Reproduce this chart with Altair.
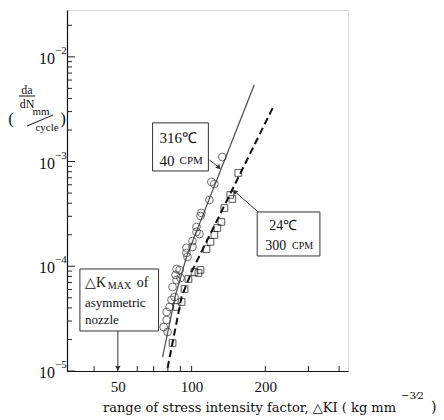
import altair as alt
import pandas as pd

# ---------------- data ----------------
# 316 C, 40 CPM (circles)
circle_dk = [133.5, 120.4, 123.9, 118.2, 109.7, 108.7, 104.7, 104.7, 107.7, 100.8,
             95.3, 100.8, 95.3, 96.2, 86.8, 89.3, 86.0, 90.1, 86.8, 83.6,
             85.2, 82.8, 81.3, 79.1, 79.1, 76.9, 79.8]
circle_rate = [1.106e-3, 6.39e-4, 6.11e-4, 4.30e-4, 3.23e-4, 3.02e-4, 2.37e-4, 2.13e-4, 2.03e-4, 1.74e-4,
               1.50e-4, 1.53e-4, 1.34e-4, 1.23e-4, 9.42e-5, 9.22e-5, 8.26e-5, 7.73e-5, 7.40e-5, 6.34e-5,
               5.09e-5, 4.77e-5, 4.09e-5, 3.66e-5, 3.07e-5, 2.63e-5, 2.36e-5]
# 24 C, 300 CPM (squares)
square_dk = [155.1, 143.9, 146.6, 136.1, 132.3, 127.4, 123.9, 119.4, 115.0, 108.7,
             102.7, 106.7, 97.1, 93.6, 91.0, 86.8, 83.6]
square_rate = [7.78e-4, 4.80e-4, 4.39e-4, 3.60e-4, 2.65e-4, 2.32e-4, 1.99e-4, 1.71e-4, 1.46e-4, 9.22e-5,
               8.82e-5, 8.63e-5, 7.56e-5, 6.07e-5, 4.56e-5, 4.09e-5, 1.85e-5]
# fitted lines
line316_dk = [76.1, 86.0, 95.3, 180.1]
line316_rate = [1.36e-5, 5.32e-5, 1.23e-4, 5.39e-3]
line24_dk = [79.8, 91.0, 99.9, 215.3]
line24_rate = [1.07e-5, 5.09e-5, 8.82e-5, 3.32e-3]

# axes
x_labels = [50, 100, 200]
x_minor_ticks = [40, 50, 60, 70, 80, 90, 100, 200, 300, 400]
y_decades = [1e-5, 1e-4, 1e-3, 1e-2]
y_exponents = ["−5", "−4", "−3", "−2"]
y_minor_ticks = [m * d for d in [1e-5, 1e-4, 1e-3] for m in range(2, 10)] + [2e-2]
x_domain = [31, 435]
y_domain = [1e-5, 2.8e-2]

# annotations (data coordinates)
box_dk = [69.3, 185.3, 35.0]
box_dk2 = [117.1, 334.1, 73.3]
box_rate = [2.34e-3, 3.30e-4, 9.42e-5]
box_rate2 = [8.13e-4, 1.254e-4, 2.41e-5]

ann_text = ["316℃", "40", "CPM", "24℃", "300", "CPM", "△K", "MAX", "of", "asymmetric", "nozzle"]
ann_dk = [74.0, 74.0, 89.3, 207.3, 199.7, 257.1, 36.7, 45.5, 59.7, 36.7, 36.7]
ann_rate = [1.68e-3, 1.01e-3, 1.01e-3, 2.43e-4, 1.56e-4, 1.56e-4, 6.93e-5, 6.48e-5, 6.93e-5, 4.46e-5, 3.07e-5]
ann_size = [15, 15, 11, 14, 14, 10, 14, 10, 14, 13, 13]

arrow_dk = [118.2, 187.1, 50]
arrow_rate = [1.036e-3, 3.30e-4, 2.41e-5]
arrow_dk2 = [128.6, 150.8, 50]
arrow_rate2 = [8.88e-4, 5.12e-4, 1.08e-5]
arrow_angle = [135, 311, 180]

W, H = 281, 361
SERIF = "Liberation Serif"

xs = alt.Scale(type="log", domain=x_domain, nice=False)
ys = alt.Scale(type="log", domain=y_domain, nice=False)

AX = alt.Axis(values=x_labels, ticks=False, domain=True, domainColor="#111",
              domainWidth=1.2, grid=False, labelFont=SERIF, labelFontSize=15,
              labelColor="#111", labelPadding=8, format="d", title=None)
AY = alt.Axis(values=y_decades, ticks=False, domain=True, domainColor="#111",
              domainWidth=1.2, grid=False, labels=False, title=None)

circles = pd.DataFrame({"dk": circle_dk, "rate": circle_rate})
squares = pd.DataFrame({"dk": square_dk, "rate": square_rate})
l316 = pd.DataFrame({"dk": line316_dk, "rate": line316_rate, "o": range(len(line316_dk))})
l24 = pd.DataFrame({"dk": line24_dk, "rate": line24_rate, "o": range(len(line24_dk))})

X = lambda f="dk": alt.X(f"{f}:Q", scale=xs, axis=AX, title=None)
Y = lambda f="rate": alt.Y(f"{f}:Q", scale=ys, axis=AY, title=None)

yt_major = alt.Chart(pd.DataFrame({"rate": y_decades})).mark_rule(color="#222", strokeWidth=1).encode(
    y=Y(), x=alt.value(0), x2=alt.value(8))
yt_minor = alt.Chart(pd.DataFrame({"rate": y_minor_ticks})).mark_rule(color="#222", strokeWidth=1).encode(
    y=Y(), x=alt.value(0), x2=alt.value(5))
xt = alt.Chart(pd.DataFrame({"dk": x_minor_ticks})).mark_rule(color="#222", strokeWidth=1).encode(
    x=X(), y=alt.value(H), y2=alt.value(H - 5))

dec_df = pd.DataFrame({"rate": y_decades, "e": y_exponents})
ylab_base = alt.Chart(dec_df).mark_text(text="10", font=SERIF, fontSize=16, align="right",
                                        baseline="middle", color="#111", dy=2).encode(
    y=Y(), x=alt.value(-12))
ylab_exp = alt.Chart(dec_df).mark_text(font=SERIF, fontSize=11, align="left",
                                       baseline="middle", color="#111", dy=-6).encode(
    y=Y(), x=alt.value(-12), text="e:N")

line_a = alt.Chart(l316).mark_line(color="#555", strokeWidth=1.3).encode(x=X(), y=Y(), order="o:Q")
line_b = alt.Chart(l24).mark_line(color="#111", strokeWidth=2, strokeDash=[7, 4]).encode(x=X(), y=Y(), order="o:Q")

pts_c = alt.Chart(circles).mark_point(shape="circle", size=60, filled=False, color="#333",
                                      strokeWidth=1).encode(x=X(), y=Y())
pts_s = alt.Chart(squares).mark_point(shape="square", size=45, filled=False, color="#111",
                                      strokeWidth=1).encode(x=X(), y=Y())

boxes = alt.Chart(pd.DataFrame({"x1": box_dk, "x2": box_dk2, "y1": box_rate, "y2": box_rate2})).mark_rect(
    fill="white", stroke="#333", strokeWidth=1).encode(
    x=X("x1"), x2="x2:Q", y=Y("y1"), y2="y2:Q")

ann = alt.Chart(pd.DataFrame({"t": ann_text, "dk": ann_dk, "rate": ann_rate, "s": ann_size})).mark_text(
    align="left", baseline="middle", font=SERIF, color="#111").encode(
    x=X(), y=Y(), text="t:N", size=alt.Size("s:Q", scale=None, legend=None))

arr_df = pd.DataFrame({"x1": arrow_dk, "y1": arrow_rate, "x2": arrow_dk2, "y2": arrow_rate2, "a": arrow_angle})
arr_lines = alt.Chart(arr_df).mark_rule(color="#333", strokeWidth=1).encode(
    x=X("x1"), y=Y("y1"), x2="x2:Q", y2="y2:Q")
arr_heads = alt.Chart(arr_df).mark_point(shape="triangle", filled=True, color="#333", size=30, opacity=1).encode(
    x=X("x2"), y=Y("y2"), angle=alt.Angle("a:Q", scale=None))

one = pd.DataFrame({"a": [0]})


def txt(s, x, y, size, font=SERIF, align="center"):
    return alt.Chart(one).mark_text(text=s, font=font, fontSize=size, align=align,
                                    baseline="middle", color="#111").encode(x=alt.value(x), y=alt.value(y))


def seg(x1, y1, x2, y2, w=1):
    return alt.Chart(one).mark_rule(color="#111", strokeWidth=w).encode(
        x=alt.value(x1), y=alt.value(y1), x2=alt.value(x2), y2=alt.value(y2))


titles = [
    txt("da", -40, 80, 12),
    seg(-48, 86, -32, 86),
    txt("dN", -40, 94, 12),
    txt("(", -56, 109, 17),
    txt("mm", -26, 102, 11),
    seg(-40, 116, -14, 105),
    txt("cycle", -20, 118, 11),
    txt(")", -4, 109, 17),
    txt("range of stress intensity factor, △KI ( kg mm", 36, 398, 13, font="DejaVu Serif", align="left"),
    txt("−3⁄2", 334, 386, 10, font="DejaVu Serif", align="left"),
    txt(")", 364, 398, 14, font="DejaVu Serif", align="left"),
]

chart = alt.layer(
    line_a, line_b, pts_c, pts_s, yt_major, yt_minor, xt, ylab_base, ylab_exp,
    arr_lines, boxes, ann, arr_heads, *titles
).properties(
    width=W, height=H,
    autosize=alt.AutoSizeParams(type="none"),
    padding={"left": 59, "top": 2, "right": 88, "bottom": 45},
).configure_view(stroke="#555", strokeWidth=1).configure(background="white")

chart.save("out.html", embed_options={"renderer": "svg", "actions": False})
